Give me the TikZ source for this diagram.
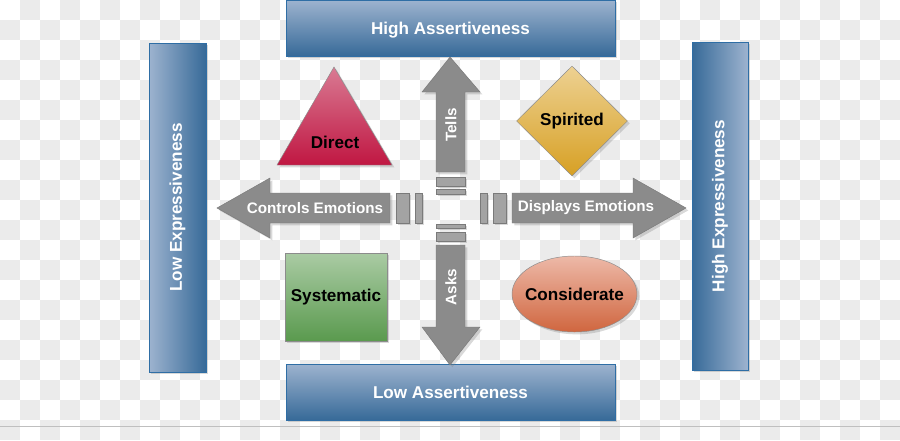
\documentclass[tikz,border=0pt]{standalone}
\usepackage{fontspec}
\setmainfont{Liberation Sans}
\usetikzlibrary{shapes.geometric,shadows,positioning}

\definecolor{checker}{HTML}{EBEBEB}
\definecolor{boxlight}{HTML}{9DB3CF}
\definecolor{boxdark}{HTML}{376A98}
\definecolor{boxline}{HTML}{2F6EA5}
\definecolor{arrowgray}{HTML}{8B8B8B}
\definecolor{arrowline}{HTML}{7A7A7A}
\definecolor{barfill}{HTML}{A3A3A3}
\definecolor{directtop}{RGB}{217,122,147}
\definecolor{directbot}{RGB}{192,23,66}
\definecolor{spirittop}{RGB}{237,209,146}
\definecolor{spiritbot}{RGB}{215,160,36}
\definecolor{systop}{RGB}{170,203,164}
\definecolor{sysbot}{RGB}{90,154,78}
\definecolor{constop}{RGB}{237,185,168}
\definecolor{consbot}{RGB}{208,102,63}

\tikzset{
  softshadow/.style={drop shadow={shadow xshift=2pt, shadow yshift=-2pt, opacity=0.3}},
  titlebox/.style={draw=boxline, line width=0.8pt, inner sep=0pt, text=white,
    font=\fontsize{14.6}{16}\selectfont\bfseries, softshadow},
  arrowbody/.style={fill=arrowgray, draw=arrowline, line width=0.4pt, softshadow},
  arrowtext/.style={text=white, inner sep=0pt, font=\fontsize{13}{15}\selectfont\bfseries},
  bar/.style={fill=barfill, draw=arrowline, line width=0.4pt, softshadow},
  stylebox/.style={draw=black!45, line width=0.4pt, inner sep=0pt,
    font=\fontsize{14.6}{16}\selectfont\bfseries, softshadow}
}

\begin{document}
\begin{tikzpicture}[x=0.03cm, y=-0.03cm]
    \useasboundingbox (0,0) rectangle (900,440);
    % transparent background pattern
    \foreach \i in {0,...,44}{
      \foreach \j in {0,...,21}{
        \pgfmathtruncatemacro\odd{mod(\i+\j,2)}
        \ifnum\odd=1 \fill[checker] (20*\i,20*\j) rectangle ++(20,20);\fi
      }
    }
    \draw[black!25, line width=0.6pt] (0,426) -- (900,426);

    % the four axis boxes
    \node[titlebox, top color=boxlight, bottom color=boxdark, text depth=0pt,
          minimum width=329*0.03cm, minimum height=56*0.03cm] (highassert) at (450.5,28) {High Assertiveness};
    \node[titlebox, top color=boxlight, bottom color=boxdark, text depth=0pt,
          minimum width=329*0.03cm, minimum height=56*0.03cm] (lowassert) at (450.5,392) {Low Assertiveness};
    \node[titlebox, left color=boxlight, right color=boxdark,
          minimum width=57*0.03cm, minimum height=329*0.03cm] (lowexpr) at (177.5,207.5) {\rotatebox{90}{Low Expressiveness}};
    \node[titlebox, left color=boxdark, right color=boxlight,
          minimum width=56*0.03cm, minimum height=328*0.03cm] (highexpr) at (720,206) {\rotatebox{90}{High Expressiveness}};

    % arrows
    \draw[arrowbody] (217,208) -- (270,178) -- (270,193) -- (390,193) -- (390,223)
        -- (270,223) -- (270,238) -- cycle;
    \draw[bar] (396,193) rectangle (409,223);
    \draw[bar] (415,193) rectangle (422,223);
    \node[arrowtext] (controls) at (315,208) {Controls Emotions};

    \draw[arrowbody] (686,208) -- (633,178) -- (633,193) -- (512,193) -- (512,223)
        -- (633,223) -- (633,238) -- cycle;
    \draw[bar] (480,193) rectangle (487,223);
    \draw[bar] (493,193) rectangle (506,223);
    \node[arrowtext] (displays) at (586,208) {Displays Emotions};

    \draw[arrowbody] (450,57) -- (480,92) -- (465,92) -- (465,172) -- (436,172)
        -- (436,92) -- (422,92) -- cycle;
    \draw[bar] (436,177) rectangle (465,186);
    \draw[bar] (436,189) rectangle (465,194);
    \node[arrowtext, rotate=90] (tells) at (451,125) {Tells};

    \draw[arrowbody] (450,365) -- (480,327) -- (465,327) -- (465,245) -- (436,245)
        -- (436,327) -- (422,327) -- cycle;
    \draw[bar] (436,224) rectangle (465,228);
    \draw[bar] (436,232) rectangle (465,241);
    \node[arrowtext, rotate=90] (asks) at (451,287) {Asks};

    % the four styles
    \draw[draw=black!45, line width=0.4pt, top color=directtop, bottom color=directbot,
          softshadow] (334,67) -- (392,165) -- (277,165) -- cycle;
    \node[font=\fontsize{14.6}{16}\selectfont\bfseries, inner sep=0pt] (direct) at (335,142) {Direct};

    \node[stylebox, diamond, top color=spirittop, bottom color=spiritbot,
          minimum width=111*0.03cm, minimum height=110*0.03cm] (spirited) at (572,121) {\makebox[0pt]{Spirited}};
    \node[stylebox, rectangle, top color=systop, bottom color=sysbot,
          minimum width=102*0.03cm, minimum height=88*0.03cm] (systematic) at (336,297) {\makebox[0pt]{Systematic}};
    \node[stylebox, ellipse, top color=constop, bottom color=consbot,
          minimum width=125*0.03cm, minimum height=76*0.03cm] (considerate) at (574.5,294) {\makebox[0pt]{Considerate}};
\end{tikzpicture}
\end{document}
